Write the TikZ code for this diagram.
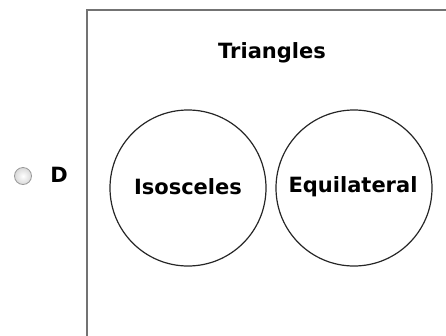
\documentclass[tikz,border=0pt]{standalone}
\usepackage{fontspec}
\setmainfont{DejaVu Sans}
\begin{document}
\begin{tikzpicture}[x=1pt,y=-1pt,
  lbl/.style={font=\bfseries\fontsize{21}{24}\selectfont, inner sep=0pt},
  setc/.style={circle, draw=black!85, line width=1.2pt, minimum size=156pt, inner sep=0pt}]
\useasboundingbox (0,0) rectangle (446,335);
\clip (0,0) rectangle (446,335);
\draw[draw=black!55, line width=1.5pt] (87,10) rectangle (460,350);
\node[lbl] (title) at (272,53) {Triangles};
\node[setc] (iso) at (188,188) {};
\node[setc] (equ) at (354,188) {};
\node[lbl] (isot) at (188,187) {Isosceles};
\node[lbl] (equt) at (353,187) {Equilateral};
\node[circle, draw=black!40, line width=0.8pt, inner color=white, outer color=black!15, minimum size=17pt, inner sep=0pt] (radio) at (23,176) {};
\node[lbl] (d) at (59,175) {D};
\end{tikzpicture}
\end{document}
